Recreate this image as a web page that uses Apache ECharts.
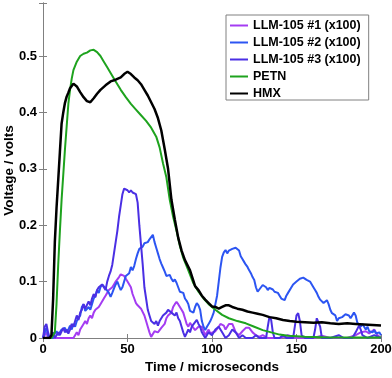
<!DOCTYPE html>
<html><head><meta charset="utf-8">
<script src="https://cdn.jsdelivr.net/npm/echarts@6/dist/echarts.min.js"></script>
<style>html,body{margin:0;padding:0;background:#fff}#c{width:392px;height:378px}</style>
</head><body><div id="c"></div>
<script>
const xTicks = [0, 50, 100, 150, 200];
const yTicks = [0, 0.1, 0.2, 0.3, 0.4, 0.5];
const seriesNames = ['LLM-105 #1 (x100)', 'LLM-105 #2 (x100)', 'LLM-105 #3 (x100)', 'PETN', 'HMX'];

const llm1 = [[0,0],[1,0.005],[2,0.01],[3,0],[18,0],[19,0.005],[20,0.01],[21,0.005],[22,0.015],[23,0.02],[24,0.025],[25,0.03],[26,0.025],[27,0.035],[28,0.04],[29,0.035],[30,0.045],[31,0.05],[32,0.048],[33,0.055],[34,0.06],[35,0.062],[36,0.07],[37,0.075],[38,0.08],[39,0.085],[40,0.088],[41,0.09],[42,0.095],[43,0.1],[44,0.103],[45,0.108],[46,0.113],[47,0.116],[48,0.11],[49,0.105],[50,0.1],[51,0.098],[52,0.09],[53,0.078],[54,0.07],[55,0.062],[56,0.058],[57,0.055],[58,0.052],[59,0.05],[60,0.04],[61,0.03],[62,0.02],[63,0.01],[64,0.002],[65,0.005],[66,0.012],[67,0.015],[68,0.01],[69,0.014],[70,0.018],[71,0.015],[72,0.025],[73,0.035],[74,0.04],[75,0.037],[76,0.045],[77,0.055],[78,0.06],[79,0.064],[80,0.06],[81,0.055],[82,0.05],[83,0.045],[84,0.035],[85,0.025],[86,0.02],[87,0.027],[88,0.022],[89,0.018],[90,0.014],[91,0.016],[92,0.02],[93,0.023],[94,0.02],[95,0.012],[96,0.005],[97,0.01],[98,0.015],[99,0.008],[100,0.005],[102,0.012],[104,0.02],[105,0.025],[106,0.027],[107,0.022],[108,0.015],[109,0.02],[110,0.025],[111,0.022],[112,0.025],[113,0.018],[114,0.01],[116,0.005],[118,0.012],[120,0.018],[122,0.018],[124,0.01],[126,0.005],[128,0.002],[130,0.005],[133,0],[140,0],[145,0.005],[150,0],[160,0],[165,0.004],[170,0],[180,0],[185,0.005],[188,0.01],[191,0.012],[193,0.008],[196,0.015],[198,0.005],[200,0]];

const llm2 = [[0,0],[1,0.01],[2,0.018],[3,0.005],[4,0],[6,0],[7,0.008],[8,0.012],[9,0.005],[10,0.01],[11,0.015],[12,0.012],[13,0.018],[14,0.01],[15,0.015],[16,0.022],[17,0.015],[18,0.025],[19,0.02],[20,0.03],[21,0.028],[22,0.04],[23,0.055],[24,0.06],[25,0.048],[26,0.045],[27,0.055],[28,0.05],[29,0.06],[30,0.07],[31,0.075],[32,0.085],[33,0.08],[34,0.09],[35,0.095],[36,0.092],[37,0.088],[38,0.09],[39,0.08],[40,0.073],[41,0.08],[42,0.088],[43,0.095],[44,0.1],[45,0.092],[46,0.085],[47,0.09],[48,0.1],[49,0.11],[50,0.108],[51,0.115],[52,0.126],[53,0.12],[54,0.128],[55,0.14],[56,0.15],[57,0.158],[58,0.155],[59,0.162],[60,0.168],[61,0.165],[62,0.17],[63,0.175],[64,0.172],[65,0.183],[66,0.17],[67,0.16],[68,0.15],[69,0.14],[70,0.132],[71,0.125],[72,0.118],[73,0.11],[74,0.108],[75,0.112],[76,0.105],[77,0.1],[78,0.104],[79,0.098],[80,0.09],[81,0.082],[82,0.085],[83,0.08],[84,0.07],[85,0.066],[86,0.06],[87,0.048],[88,0.05],[89,0.045],[90,0.055],[91,0.062],[92,0.058],[93,0.05],[94,0.03],[95,0.02],[96,0.014],[97,0.02],[98,0.025],[99,0.03],[100,0.037],[101,0.045],[102,0.06],[103,0.075],[104,0.1],[105,0.125],[106,0.144],[107,0.152],[108,0.156],[109,0.15],[110,0.155],[111,0.153],[112,0.158],[113,0.156],[114,0.16],[115,0.162],[116,0.155],[117,0.145],[118,0.14],[119,0.135],[120,0.13],[121,0.126],[122,0.12],[123,0.115],[124,0.108],[125,0.103],[126,0.09],[127,0.082],[128,0.086],[129,0.09],[130,0.094],[131,0.095],[132,0.09],[133,0.085],[134,0.089],[135,0.09],[136,0.086],[137,0.082],[138,0.085],[139,0.08],[140,0.075],[141,0.07],[142,0.068],[143,0.067],[144,0.075],[145,0.08],[146,0.082],[147,0.09],[148,0.095],[149,0.098],[150,0.1],[151,0.102],[152,0.105],[153,0.104],[154,0.107],[155,0.105],[156,0.103],[157,0.1],[158,0.1],[159,0.098],[160,0.09],[161,0.085],[162,0.08],[163,0.073],[164,0.068],[165,0.065],[166,0.062],[167,0.06],[168,0.067],[169,0.06],[170,0.05],[171,0.044],[172,0.042],[173,0.04],[174,0.03],[175,0.035],[176,0.038],[177,0.037],[178,0.04],[179,0.042],[180,0.044],[181,0.04],[182,0.035],[183,0.038],[184,0.045],[185,0.04],[186,0.027],[187,0.025],[188,0.02],[189,0.025],[190,0.02],[191,0.015],[192,0.02],[193,0.012],[194,0.015],[195,0.01],[196,0.014],[197,0.008],[198,0.005],[199,0.01],[200,0.005]];

const llm3 = [[0,0],[1,0.02],[2,0.025],[3,0.01],[4,0],[5,0.005],[6,0.01],[7,0],[8,0.005],[9,0.01],[10,0.005],[11,0.012],[12,0.018],[13,0.01],[14,0.015],[15,0.008],[16,0.015],[17,0.025],[18,0.02],[19,0.03],[20,0.04],[21,0.032],[22,0.045],[23,0.05],[24,0.06],[25,0.052],[26,0.055],[27,0.065],[28,0.058],[29,0.07],[30,0.078],[31,0.072],[32,0.085],[33,0.09],[34,0.088],[35,0.095],[36,0.09],[37,0.085],[38,0.1],[39,0.11],[40,0.118],[41,0.13],[42,0.15],[43,0.17],[44,0.19],[45,0.215],[46,0.235],[47,0.255],[48,0.265],[49,0.268],[50,0.262],[51,0.258],[52,0.262],[53,0.258],[54,0.26],[55,0.255],[56,0.24],[57,0.2],[58,0.165],[59,0.13],[60,0.09],[61,0.07],[62,0.05],[63,0.04],[64,0.03],[65,0.028],[66,0.025],[67,0.03],[68,0.022],[69,0.03],[70,0.035],[71,0.04],[72,0.038],[73,0.045],[74,0.05],[75,0.052],[76,0.045],[77,0.048],[78,0.04],[79,0.045],[80,0.035],[81,0.03],[82,0.02],[83,0.01],[84,0.002],[85,0.005],[86,0.015],[87,0.01],[88,0.02],[89,0.022],[90,0.028],[91,0.032],[92,0.025],[93,0.02],[94,0.01],[95,0.005],[96,0],[98,0.01],[100,0.005],[102,0.015],[104,0.02],[106,0.01],[108,0],[110,0.005],[112,0.015],[114,0.01],[116,0],[118,0.005],[120,0],[124,0],[126,0.005],[128,0],[132,0],[133,0.02],[134,0.038],[135,0.032],[136,0.01],[137,0],[140,0],[142,0.005],[144,0],[148,0],[149,0.02],[150,0.04],[151,0.044],[152,0.03],[153,0.005],[155,0],[160,0],[161,0.015],[162,0.035],[163,0.036],[164,0.02],[165,0],[170,0],[175,0.005],[178,0],[183,0],[185,0.01],[187,0.022],[188,0.015],[189,0.005],[192,0],[196,0.005],[200,0]];

const petn = [[0,0],[5,0],[6,0],[7,0.01],[8,0.06],[9,0.13],[10,0.19],[11,0.245],[12,0.29],[13,0.335],[14,0.375],[15,0.415],[16,0.44],[17,0.46],[18,0.475],[20,0.49],[22,0.5],[24,0.504],[26,0.506],[28,0.51],[30,0.511],[32,0.507],[34,0.5],[36,0.49],[38,0.48],[40,0.47],[43,0.455],[46,0.44],[49,0.427],[52,0.415],[55,0.405],[58,0.395],[61,0.385],[64,0.373],[67,0.357],[69,0.338],[71,0.31],[73,0.285],[75,0.245],[77,0.215],[79,0.19],[81,0.163],[83,0.142],[86,0.12],[89,0.097],[92,0.082],[95,0.07],[98,0.06],[102,0.05],[106,0.041],[110,0.035],[115,0.03],[120,0.026],[125,0.02],[130,0.014],[135,0.01],[140,0.006],[145,0.004],[155,0.002],[170,0.001],[200,0.001]];

const hmx = [[0,0],[4,0],[5,0.005],[6,0.07],[7,0.17],[8,0.23],[9,0.28],[10,0.33],[11,0.38],[12,0.4],[13,0.417],[14,0.428],[15,0.435],[16,0.443],[18,0.451],[20,0.446],[22,0.436],[24,0.427],[26,0.42],[28,0.418],[30,0.425],[32,0.433],[34,0.44],[37,0.448],[40,0.455],[43,0.458],[46,0.462],[48,0.468],[50,0.472],[52,0.468],[54,0.462],[56,0.457],[58,0.45],[60,0.44],[62,0.43],[64,0.418],[66,0.406],[68,0.39],[70,0.368],[72,0.335],[74,0.3],[76,0.245],[78,0.21],[80,0.178],[82,0.155],[84,0.138],[87,0.12],[90,0.092],[92,0.085],[94,0.075],[96,0.068],[98,0.062],[100,0.056],[102,0.055],[104,0.052],[106,0.055],[108,0.058],[110,0.058],[112,0.055],[115,0.052],[118,0.05],[121,0.047],[124,0.045],[127,0.043],[130,0.041],[134,0.037],[138,0.035],[142,0.032],[146,0.03],[150,0.029],[155,0.028],[160,0.027],[165,0.028],[170,0.026],[175,0.025],[180,0.026],[185,0.025],[190,0.024],[195,0.023],[200,0.022]];

const colors = ['#a43cf2', '#2c55f2', '#4a2fe4', '#1ea31e', '#000000'];
const widths = [2, 2, 2, 2, 2.5];
const datasets = [llm1, llm2, llm3, petn, hmx];

const font = 'Liberation Sans, Arial, sans-serif';
const axisColor = '#808080';
const chart = echarts.init(document.getElementById('c'), null, {renderer: 'canvas'});
const baseX = {type: 'value', min: 0, max: 200, interval: 50,
  axisLine: {show: true, lineStyle: {color: axisColor, width: 1}},
  axisTick: {show: true, inside: true, length: 4, lineStyle: {color: axisColor}},
  splitLine: {show: false}};
const baseY = {type: 'value', min: 0, max: 0.594, interval: 0.1,
  axisLine: {show: true, lineStyle: {color: axisColor, width: 1}},
  axisTick: {show: true, inside: true, length: 4, lineStyle: {color: axisColor}},
  splitLine: {show: false}};
chart.setOption({
  animation: false,
  backgroundColor: '#fff',
  grid: {left: 43, right: 11, top: 3, bottom: 40, containLabel: false, outerBoundsMode: 'none'},
  xAxis: [
    Object.assign({}, baseX, {position: 'bottom',
      name: 'Time / microseconds', nameLocation: 'middle', nameGap: 22, nameMoveOverlap: false,
      nameTextStyle: {fontFamily: font, fontWeight: 'bold', fontSize: 13.5, color: '#000'},
      axisLabel: {fontFamily: font, fontWeight: 'bold', fontSize: 13, color: '#000', margin: 5,
        formatter: v => xTicks.includes(v) ? String(v) : ''}}),
    Object.assign({}, baseX, {position: 'top', axisLabel: {show: false}})
  ],
  yAxis: [
    Object.assign({}, baseY, {position: 'left',
      name: 'Voltage / volts', nameLocation: 'middle', nameGap: 27, nameMoveOverlap: false,
      nameTextStyle: {fontFamily: font, fontWeight: 'bold', fontSize: 13.5, color: '#000'},
      axisLabel: {fontFamily: font, fontWeight: 'bold', fontSize: 13, color: '#000', margin: 6,
        formatter: v => { const r = Math.round(v * 10) / 10; return (Math.abs(v - r) < 1e-9 && yTicks.includes(r)) ? (r === 0 ? '0' : r.toFixed(1)) : ''; }}}),
    Object.assign({}, baseY, {position: 'right', axisLabel: {show: false}})
  ],
  legend: {
    orient: 'vertical', left: 226, top: 15,
    padding: [4, 8, 0, 4], itemGap: 4, itemWidth: 18, itemHeight: 12,
    borderColor: '#808080', borderWidth: 1, backgroundColor: '#fff',
    textStyle: {fontFamily: font, fontWeight: 'bold', fontSize: 12.5, lineHeight: 12, color: '#000'},
    data: seriesNames.map(n => ({name: n, icon: 'path://M0,0 L18,0 L18,2 L0,2 Z'}))
  },
  series: datasets.map((d, i) => ({
    name: seriesNames[i], type: 'line', data: d, showSymbol: false, symbol: 'none',
    xAxisIndex: 0, yAxisIndex: 0,
    lineStyle: {color: colors[i], width: widths[i]}, itemStyle: {color: colors[i]},
    z: 2 + i, clip: true
  }))
});
</script></body></html>
